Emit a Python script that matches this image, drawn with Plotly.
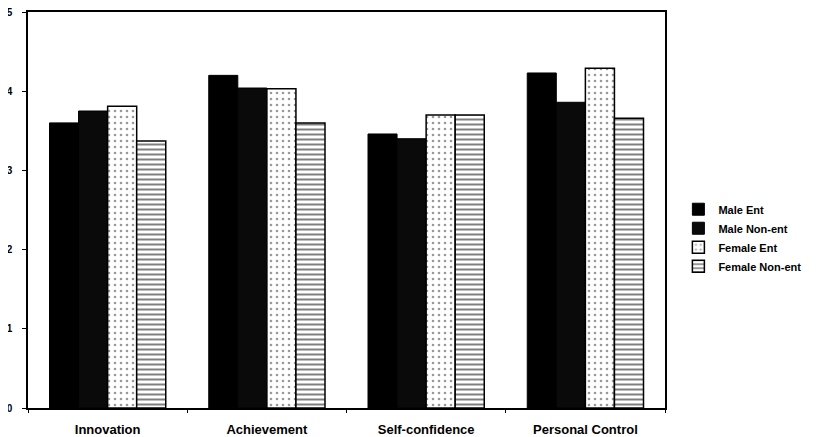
import plotly.graph_objects as go

categories = ["Innovation", "Achievement", "Self-confidence", "Personal Control"]
male_ent = [3.60, 4.20, 3.46, 4.23]
male_nonent = [3.75, 4.04, 3.40, 3.86]
female_ent = [3.81, 4.03, 3.70, 4.29]
female_nonent = [3.37, 3.60, 3.70, 3.66]
y_ticks = [0, 1, 2, 3, 4, 5]

fig = go.Figure()
fig.add_bar(name="Male Ent", x=categories, y=male_ent,
            marker=dict(color="black", line=dict(color="black", width=1)))
fig.add_bar(name="Male Non-ent", x=categories, y=male_nonent,
            marker=dict(color="#0a0a0a", line=dict(color="black", width=1)))
fig.add_bar(name="Female Ent", x=categories, y=female_ent,
            marker=dict(color="white", line=dict(color="black", width=1.5),
                        pattern=dict(shape=".", fgcolor="#333333", bgcolor="white",
                                     size=6, solidity=0.15)))
fig.add_bar(name="Female Non-ent", x=categories, y=female_nonent,
            marker=dict(color="white", line=dict(color="black", width=1.5),
                        pattern=dict(shape="-", fgcolor="black", bgcolor="white",
                                     size=5, solidity=0.4)))

font_family = "Liberation Sans, Arial, sans-serif"
# page body has an 8px margin, so the figure is sized to fit the window
fig.update_layout(
    width=815, height=429,
    margin=dict(l=20, r=158, t=4, b=29),
    plot_bgcolor="white", paper_bgcolor="white",
    barmode="group", bargap=0.27, bargroupgap=0,
    font=dict(family=font_family, color="black", size=11),
    showlegend=True,
    legend=dict(x=1.021, y=0.43, xanchor="left", yanchor="middle",
                font=dict(size=11, family=font_family, weight="bold"), itemwidth=30,
                tracegroupgap=0),
)
fig.update_xaxes(showline=True, linecolor="black", linewidth=1.5, mirror=True,
                 ticks="outside", tickson="boundaries", ticklen=3, tickcolor="black",
                 ticklabelstandoff=9,
                 tickfont=dict(size=13, family="Liberation Sans, Arial", weight="bold"),
                 showgrid=False, automargin=False)
fig.update_yaxes(range=[0, 5], tickvals=y_ticks, showline=True, linecolor="black",
                 linewidth=1.5, mirror=True, ticks="outside", ticklen=4,
                 tickcolor="black", showgrid=False, zeroline=False,
                 automargin=False, ticklabelstandoff=8, ticklabeloverflow="allow",
                 tickfont=dict(size=10, family="Liberation Sans, Arial", weight="bold"))

fig.write_html("out.html")
